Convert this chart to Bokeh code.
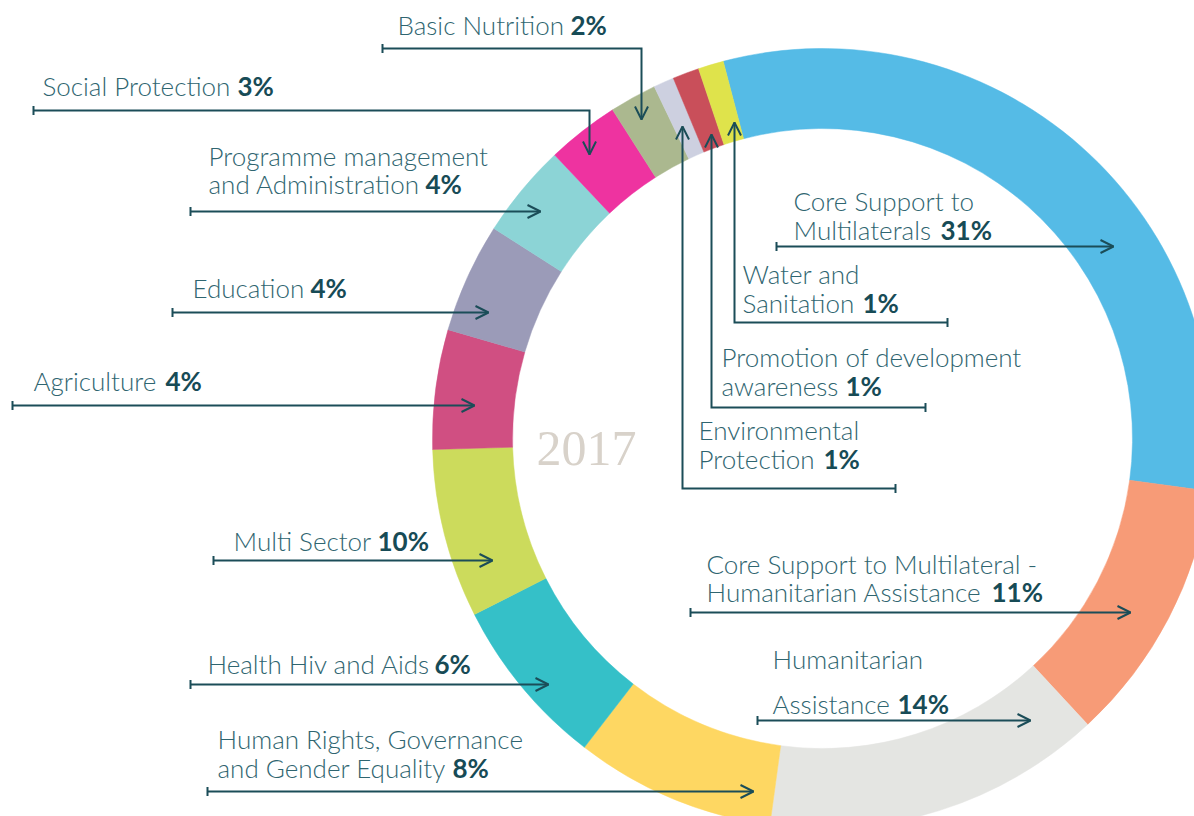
import math
from bokeh.plotting import figure
from bokeh.models import Range1d, Arrow, OpenHead, TeeHead
from bokeh.core.properties import value
from bokeh.embed import file_html
from bokeh.resources import INLINE

# ---------------- data ----------------
categories = [
    "Core Support to Multilaterals",
    "Core Support to Multilateral - Humanitarian Assistance",
    "Humanitarian Assistance",
    "Human Rights, Governance and Gender Equality",
    "Health Hiv and Aids",
    "Multi Sector",
    "Agriculture",
    "Education",
    "Programme management and Administration",
    "Social Protection",
    "Basic Nutrition",
    "Environmental Protection",
    "Promotion of development awareness",
    "Water and Sanitation",
]
# percentages as printed in the labels
percent = [31, 11, 14, 8, 6, 10, 4, 4, 4, 3, 2, 1, 1, 1]
# share of the ring each slice occupies as drawn (%)
slice_share = [31.25, 10.95, 14.05, 8.3, 7.1, 7.0, 4.95, 4.55, 3.9, 3.0,
               1.95, 0.85, 1.1, 1.05]
colors = ["#55bbe6", "#f79b77", "#e4e5e2", "#fed762", "#35c0c8", "#ccdb5c",
          "#d04f82", "#9b9bb8", "#8cd4d6", "#ee33a0", "#abb88f", "#cdd0e0",
          "#c94f5a", "#dfe34b"]
year_label = "2017"

# label text lines (name parts); the last line carries the bold percentage
label_lines = [
    ["Core Support to", "Multilaterals"],
    ["Core Support to Multilateral -", "Humanitarian Assistance"],
    ["Humanitarian", "Assistance"],
    ["Human Rights, Governance", "and Gender Equality"],
    ["Health Hiv and Aids"],
    ["Multi Sector"],
    ["Agriculture"],
    ["Education"],
    ["Programme management", "and Administration"],
    ["Social Protection"],
    ["Basic Nutrition"],
    ["Environmental", "Protection"],
    ["Promotion of development", "awareness"],
    ["Water and", "Sanitation"],
]

# ---------------- layout (reference pixel coords) ----------------
W, H = 1194, 816
def Y(y):
    return H - y

CX, CY = 822, 438
R_OUT, R_IN = 390, 310
START = -14.75  # degrees clockwise from top where first slice starts

# text anchor: x, first-line center y, line spacing, x of bold pct
text_x = [793, 706, 772, 217, 207, 233, 33, 192, 208, 42, 397, 698, 721, 742]
text_y = [200, 563, 658, 738, 663, 540, 380, 287, 155, 85, 24, 429, 356, 273]
line_gap = [29, 28, 45, 29, 0, 0, 0, 0, 28, 0, 0, 29, 29, 29]
pct_x = [940, 991, 897, 452, 434, 377, 165, 310, 425, 237, 570, 823, 845, 862]

# leader polylines (points in ref px); head at last point, tee at first point
leaders = [
    [(776, 246), (1113, 246)],
    [(690, 612), (1130, 612)],
    [(757, 720), (1030, 720)],
    [(207, 791), (753, 791)],
    [(190, 684), (548, 684)],
    [(213, 560), (492, 560)],
    [(12, 405), (474, 405)],
    [(172, 312), (488, 312)],
    [(190, 211), (540, 211)],
    [(33, 110), (589, 110), (589, 154)],
    [(382, 48), (641, 48), (641, 119)],
    [(895, 488), (682, 488), (682, 126)],
    [(925, 407), (711, 407), (711, 134)],
    [(947, 322), (734, 322), (734, 122)],
]

LINE_C = "#1b4d58"
NAME_C = "#2f6570"
PCT_C = "#174b56"
FS = "26px"

p = figure(width=W, height=H, x_range=Range1d(0, W), y_range=Range1d(0, H),
           output_backend="svg", toolbar_location=None,
           x_axis_location=None, y_axis_location=None, min_border=0)
p.outline_line_color = None
p.xgrid.visible = False
p.ygrid.visible = False
p.background_fill_color = "white"
p.border_fill_color = "white"

# donut wedges from data
total = sum(slice_share)
cum = 0.0
starts, ends = [], []
for v in slice_share:
    a = START + 360.0 * cum / total
    cum += v
    b = START + 360.0 * cum / total
    starts.append(math.radians(90 - a))
    ends.append(math.radians(90 - b))

p.annular_wedge(x=[CX] * len(slice_share), y=[Y(CY)] * len(slice_share),
                inner_radius=R_IN, outer_radius=R_OUT,
                start_angle=starts, end_angle=ends, direction="clock",
                fill_color=colors, line_color=colors, line_width=0.5)

# year label
p.text(x=[586], y=[Y(448)], text=[year_label], text_font=value("Liberation Serif"),
       text_font_size="50px", text_color="#d8d2ca", text_align="center",
       text_baseline="middle")

# labels
nx, ny, nt = [], [], []
px_, py_, pt = [], [], []
for i, lines in enumerate(label_lines):
    for j, ln in enumerate(lines):
        nx.append(text_x[i])
        ny.append(Y(text_y[i] + j * line_gap[i]))
        nt.append(ln)
    px_.append(pct_x[i])
    py_.append(Y(text_y[i] + (len(lines) - 1) * line_gap[i]))
    pt.append(f"{percent[i]}%")

p.text(x=nx, y=ny, text=nt, text_font=value("Lato Light"), text_font_size=FS,
       text_color=NAME_C, text_align="left", text_baseline="middle")
p.text(x=px_, y=py_, text=pt, text_font=value("Lato"), text_font_style="bold",
       text_font_size=FS, text_color=PCT_C, text_align="left", text_baseline="middle")

# leaders
xs = [[pt_[0] for pt_ in L] for L in leaders]
ys = [[Y(pt_[1]) for pt_ in L] for L in leaders]
p.multi_line(xs=xs, ys=ys, line_color=LINE_C, line_width=2, line_join="miter")
for L in leaders:
    (x0, y0), (x1, y1) = L[0], L[1]
    p.add_layout(Arrow(start=TeeHead(size=9, line_color=LINE_C, line_width=2), end=None,
                       x_start=x0, y_start=Y(y0), x_end=x1, y_end=Y(y1), line_alpha=0))
    (xa, ya), (xb, yb) = L[-2], L[-1]
    p.add_layout(Arrow(end=OpenHead(size=13, line_color=LINE_C, line_width=2),
                       x_start=xa, y_start=Y(ya), x_end=xb, y_end=Y(yb), line_alpha=0))

open("out.html", "w").write(file_html(p, INLINE))
